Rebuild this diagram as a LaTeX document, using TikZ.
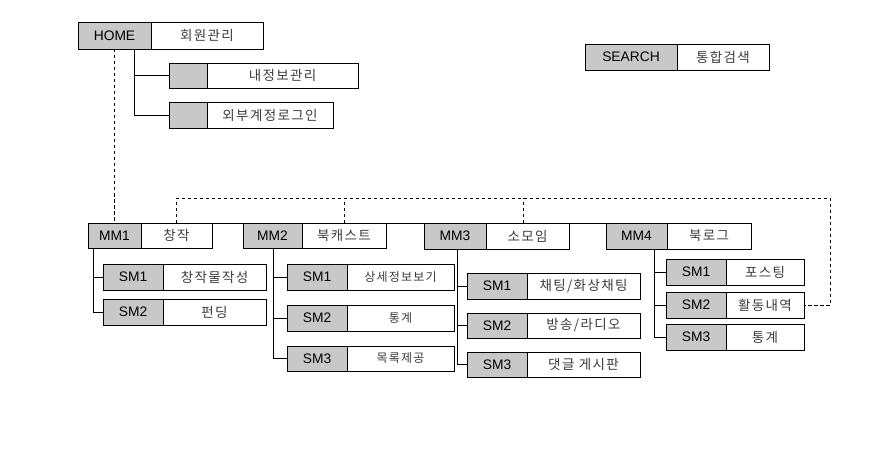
\documentclass[tikz,border=0pt]{standalone}
\usepackage{fontspec}
\setmainfont{Liberation Sans}
\newfontfamily\kr[LetterSpace=10]{Noto Sans CJK KR}
\usetikzlibrary{calc}
\definecolor{boxgray}{RGB}{200,200,200}
\definecolor{krtext}{RGB}{60,60,60}
\tikzset{
  gbox/.style={draw=black, fill=boxgray, line width=0.9pt, inner sep=0pt, outer sep=0pt,
    font=\fontsize{13.8}{14}\selectfont, text=black, anchor=north west},
  wbox/.style={draw=black, fill=white, line width=0.9pt, inner sep=0pt, outer sep=0pt,
    font=\kr\fontsize{13.5}{14}\selectfont, text=krtext, anchor=north west},
  conn/.style={line width=0.9pt, black},
  dconn/.style={line width=0.9pt, black, dash pattern=on 3.5pt off 2.5pt}
}
% #1 name, #2 x, #3 y top, #4 gray width, #5 white width, #6 height, #7 gray text, #8 white text
\newcommand\pairbox[8]{%
  \node[gbox, minimum width=#4pt, minimum height=#6pt] (#1) at (#2pt,-#3pt) {#7};
  \node[wbox, minimum width=#5pt, minimum height=#6pt] (#1t) at (#1.north east) {#8};}
\begin{document}
\begin{tikzpicture}[x=1pt,y=1pt]
\useasboundingbox (0,0) rectangle (888,-457);
% top level
\pairbox{home}{78}{22}{73}{112}{27}{HOME}{회원관리}
\pairbox{info}{169}{63}{38}{151}{25}{}{내정보관리}
\pairbox{ext}{169}{102}{38}{126}{26}{}{외부계정로그인}
\pairbox{search}{585}{44}{92}{92}{26}{SEARCH}{통합검색}
% main menus
\pairbox{mma}{88}{223}{53}{71}{25}{MM1}{창작}
\pairbox{mmb}{243}{223}{59}{84}{25}{MM2}{북캐스트}
\pairbox{mmc}{424}{223}{62}{83}{26}{MM3}{소모임}
\pairbox{mmd}{606}{223}{61}{84}{26}{MM4}{북로그}
% MM1 subs
\pairbox{asa}{103}{264}{60}{103}{26}{SM1}{창작물작성}
\pairbox{asb}{103}{299}{60}{103}{26}{SM2}{펀딩}
% MM2 subs
\pairbox{bsa}{287}{264}{60}{107}{26}{SM1}{\fontsize{12}{14}\selectfont 상세정보보기}
\pairbox{bsb}{287}{305}{60}{107}{26}{SM2}{\fontsize{12}{14}\selectfont 통계}
\pairbox{bsc}{287}{346}{60}{107}{25}{SM3}{\fontsize{12}{14}\selectfont 목록제공}
% MM3 subs
\pairbox{csa}{467}{273}{60}{113}{26}{SM1}{채팅/화상채팅}
\pairbox{csb}{467}{313}{60}{113}{25}{SM2}{방송/라디오}
\pairbox{csc}{467}{352}{60}{113}{25}{SM3}{댓글 게시판}
% MM4 subs
\pairbox{dsa}{666}{259}{60}{78}{26}{SM1}{포스팅}
\pairbox{dsb}{666}{292}{60}{78}{26}{SM2}{활동내역}
\pairbox{dsc}{666}{324}{60}{78}{26}{SM3}{통계}
% HOME connectors
\coordinate (hx) at ($(home.south west)+(56,0)$);
\draw[conn] (hx) |- (info.west);
\draw[conn] (hx) |- (ext.west);
\coordinate (hd) at ($(home.south west)+(36,0)$);
\draw[dconn] (hd) -- (hd |- mma.north);
% main menu bar
\draw[conn] (mma.north west) -- (mmd.north west);
% sub connectors
\coordinate (ax) at ($(mma.south west)+(5,0)$);
\draw[conn] (ax) |- (asa.west);
\draw[conn] (ax) |- (asb.west);
\coordinate (bx) at ($(mmb.south west)+(30,0)$);
\draw[conn] (bx) |- (bsa.west);
\draw[conn] (bx) |- (bsb.west);
\draw[conn] (bx) |- (bsc.west);
\coordinate (cx) at ($(mmc.south west)+(33,0)$);
\draw[conn] (cx) |- (csa.west);
\draw[conn] (cx) |- (csb.west);
\draw[conn] (cx) |- (csc.west);
\coordinate (dx) at ($(mmd.south west)+(48,0)$);
\draw[conn] (dx) |- (dsa.west);
\draw[conn] (dx) |- (dsb.west);
\draw[conn] (dx) |- (dsc.west);
% dashed loop
\coordinate (dc) at (830,-198);
\draw[dconn] (mmat.north) |- (dc) |- (dsbt.east);
\draw[dconn] (mmbt.north) -- (mmbt.north |- dc);
\coordinate (c3) at ($(mmct.north)+(-4,0)$);
\draw[dconn] (c3) -- (c3 |- dc);
\end{tikzpicture}
\end{document}
